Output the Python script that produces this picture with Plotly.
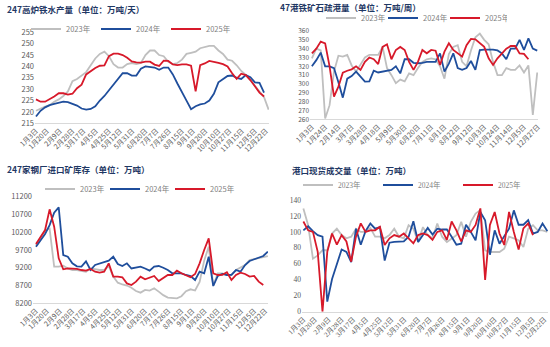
import re
import pandas as pd
import plotly.graph_objects as go

YEARS = ["2023年", "2024年", "2025年"]
COLORS = ["#BFBFBF", "#1F4E9C", "#D7192A"]
TITLE_COLOR = "#1F3864"

# ---------------- Panel 1: 247高炉铁水产量 (万吨/天) ----------------
iron_title = "247高炉铁水产量（单位：万吨/天）"
iron_ticks = ["1月3日", "1月20日", "2月9日", "2月28日", "3月17日", "4月5日", "4月25日",
              "5月12日", "5月31日", "6月20日", "7月7日", "7月26日", "8月15日", "9月1日",
              "9月20日", "10月10日", "10月27日", "11月15日", "12月5日", "12月22日"]
iron_2023 = [220.5, 221.5, 222.3, 223, 224.5, 225.5, 227, 229, 233.5, 234.5, 236, 237.5,
             240.5, 243.5, 245.5, 246.5, 244.5, 241, 239.5, 239.5, 241, 241.5, 241, 241.5,
             245, 247, 247, 245, 244.5, 242, 241, 241.5, 243, 245.5, 246, 246.5, 248, 248.5,
             249, 249, 247, 245.5, 243, 242.5, 240.5, 238, 236.3, 234, 231.5, 229, 226.5, 221]
iron_2024 = [218, 220.5, 222, 223, 223.5, 224, 224.5, 224.3, 223.5, 222.8, 221.5, 221,
             221.3, 222.5, 225, 227, 229.5, 232, 234.5, 237, 237, 236, 236, 239, 240, 239.7,
             239.5, 238.5, 239.5, 239.5, 236.5, 232.5, 229, 225, 221.2, 222.5, 223.3, 223.7,
             225, 228, 233, 234.5, 235.8, 236, 235, 234.5, 236.2, 235.3, 233, 232.8, 228.5]
iron_2025 = [225.5, 224.5, 224.5, 225.5, 226.8, 228.2, 228.2, 227.6, 228, 230.4, 232, 236.5,
             238, 239.3, 240.3, 240.5, 244.5, 245.6, 245.6, 245, 243.8, 242.2, 241.8, 241.7,
             242.1, 242.1, 240.8, 240.2, 242.5, 242.4, 240.9, 240.6, 240.9, 240.9, 240.3, 229,
             240.6, 241.3, 242.4, 242.1, 241.6, 241, 240, 237, 234.5, 236.8, 236.2, 234, 231,
             228.5, 226.8]

# ---------------- Panel 2: 47港铁矿石疏港量 (万吨/周) ----------------
port_title = "47港铁矿石疏港量（单位：万吨/周）"
port_ticks = ["1月3日", "1月24日", "2月14日", "3月7日", "3月28日", "4月18日", "5月9日",
              "5月30日", "6月20日", "7月11日", "8月1日", "8月22日", "9月12日", "10月3日",
              "10月24日", "11月14日", "12月5日", "12月27日"]
port_2023 = [329, 340, 338, 261, 276, 314, 332, 331, 333, 321, 314, 322, 330, 333, 333, 333,
             342, 318, 310, 301, 305, 303, 312, 310, 318, 325, 328, 329, 328, 320, 306, 334,
             342, 344, 325, 320, 338, 353, 357, 350, 345, 325, 310, 310, 318, 316, 316, 321,
             313, 321, 265, 313]
port_2024 = [320, 327, 335.5, 320, 320, 318, 302, 284.5, 306, 309, 314, 308, 302.6, 303, 315,
             313, 314, 315, 316, 320, 312, 328, 328, 324, 323.5, 324, 325, 325, 325, 334.7, 314,
             323, 334.7, 318, 316, 318, 326, 316, 338.5, 339, 339, 339, 338, 334.7, 328, 340,
             340, 350, 338.5, 351.7, 340, 337.7]
port_2025 = [334.7, 340, 348, 346, 320, 285.7, 297, 312.8, 315, 316.6, 320, 316, 325, 330,
             328, 322.6, 342, 345, 328, 338.5, 342, 338.5, 325, 316, 325, 338.5, 334.7, 338.5,
             337.7, 321.5, 336.6, 346, 338.5, 334.7, 331, 344, 351, 350.6, 346, 342, 329,
             321.5, 329, 334.7, 340, 343, 343, 334.7, 334, 328]

# ---------------- Panel 3: 247家钢厂进口矿库存 (万吨) ----------------
stock_title = "247家钢厂进口矿库存（单位：万吨）"
stock_ticks = iron_ticks
stock_2023 = [9830, 10050, 10250, 10300, 9231, 9231, 9260, 9180, 9137, 9137, 9110, 9090,
              9180, 9155, 9137, 9137, 9250, 8950, 8780, 8730, 8700, 8640, 8547, 8500, 8575,
              8556, 8622, 8528, 8430, 8360, 8340, 8340, 8400, 8540, 8594, 8560, 8800, 9400,
              9794, 8700, 9044, 9044, 9000, 8997, 9137, 9200, 9278, 9418, 9440, 9465, 9500,
              9531]
stock_2024 = [9794, 9981, 10150, 10400, 10750, 10900, 9559, 9512, 9325, 9240, 9231, 9380,
              9137, 9280, 9325, 9372, 9400, 9512, 9306, 9250, 9325, 9180, 9200, 9231, 9180,
              9118, 9231, 9250, 9200, 9137, 9044, 9044, 9044, 8997, 8969, 8856, 9090, 9044,
              9512, 8687, 8969, 9025, 8997, 9000, 9137, 9090, 9278, 9391, 9437, 9480, 9531,
              9653]
stock_2025 = [9869, 10075, 10262, 10844, 10356, 9466, 9156, 9184, 9184, 9166, 9137, 9118,
              9166, 9090, 9062, 9090, 9325, 8950, 8950, 8931, 8760, 8715, 8809, 8950, 8875,
              8931, 8969, 8828, 8903, 8997, 8997, 9118, 9044, 8997, 8931, 9025, 9325, 9700,
              10028, 9044, 8997, 9000, 9072, 8856, 8997, 9062, 9025, 8950, 8969, 8809, 8715]

# ---------------- Panel 4: 港口现货成交量 (万吨) ----------------
trade_title = "港口现货成交量（单位：万吨）"
trade_ticks = iron_ticks
trade_2023 = [129.4, 108.4, 66.4, 70.6, 77, 77, 98, 104, 96, 92, 94, 104, 100, 100, 105, 94,
              94, 92, 96, 104, 94, 92, 108.4, 104, 87.4, 106, 96, 92, 110.5, 94, 87.4, 92, 96,
              112.6, 94, 112.6, 123, 127.3, 77, 74.8, 74.8, 74.8, 79, 94, 92, 89.5, 81, 104,
              108.4, 102, 102, 100]
trade_2024 = [102, 107, 101, 96, 94, 12.6, 41, 60, 78, 75, 62, 104, 84, 101, 110.5, 104, 106,
              64, 86.5, 87.4, 88, 88, 94, 113.4, 87.4, 96.6, 105, 96.6, 104, 103, 103, 94, 84,
              85.3, 109, 100, 89.5, 125, 114.7, 71.4, 102, 85.3, 94, 104, 127, 109, 109, 114.7,
              98, 100, 110.5, 101]
trade_2025 = [113, 102, 100, 75, 0, 75, 98, 84, 96, 88, 62.7, 94, 110.7, 100, 102, 102, 106.5,
              83.6, 92, 96, 94, 98, 92, 85.7, 96, 98, 96, 90, 100, 102, 90, 113, 102, 88, 102,
              100, 108.7, 129.5, 39.7, 108.7, 125, 98, 83.6, 125, 100, 78, 104.5, 110.7, 96]

W, H = 550, 347
BASE_YEAR = 2023
SANS = "Noto Sans CJK SC, Liberation Sans, sans-serif"
SERIF = "Liberation Serif, Noto Sans CJK SC, serif"


def label_date(lbl):
    m, d = re.match(r"(\d+)月(\d+)日", lbl).groups()
    return pd.Timestamp(BASE_YEAR, int(m), int(d))


def week_dates(n):
    return pd.date_range(f"{BASE_YEAR}-01-03", periods=n, freq="7D")


def day(doy):
    return pd.Timestamp(BASE_YEAR, 1, 1) + pd.Timedelta(days=doy - 1)


panels = [
    dict(title=iron_title, ticks=iron_ticks, series=[iron_2023, iron_2024, iron_2025],
         xdom=(35, 269), ydom=(32.3, 123.3), yr=(215, 255), dy=5, xr=(1.5, 360.6),
         title_xy=(5, 9), leg_xy=(26, 29), entry=25, yfs=7.5, fam=SANS),
    dict(title=port_title, ticks=port_ticks, series=[port_2023, port_2024, port_2025],
         xdom=(310, 538), ydom=(31, 119.3), yr=(260, 360), dy=10, xr=(0, 361.2),
         title_xy=(278, 7), leg_xy=(321, 18), entry=17, yfs=6.5, fam=SANS),
    dict(title=stock_title, ticks=stock_ticks, series=[stock_2023, stock_2024, stock_2025],
         xdom=(33, 268), ydom=(196.7, 303.3), yr=(8200, 11200), dy=500, xr=(-1.6, 360.3),
         title_xy=(5, 169), leg_xy=(40, 189), entry=20, yfs=7.5, fam=SANS),
    dict(title=trade_title, ticks=trade_ticks, series=[trade_2023, trade_2024, trade_2025],
         xdom=(302, 548), ydom=(200, 311.7), yr=(0, 140), dy=20, xr=(1, 361),
         title_xy=(290, 170), leg_xy=(298, 185), entry=35, yfs=7.5, fam=SERIF),
]

fig = go.Figure()
layout = dict(width=W, height=H, margin=dict(l=0, r=0, t=0, b=0, autoexpand=False),
              paper_bgcolor="white", plot_bgcolor="white", showlegend=True,
              font=dict(family=SANS))
annotations = []

for k, p in enumerate(panels, start=1):
    sfx = "" if k == 1 else str(k)
    leg = "legend" if k == 1 else f"legend{k}"
    for j, vals in enumerate(p["series"]):
        fig.add_trace(go.Scatter(
            x=week_dates(len(vals)), y=vals, mode="lines", name=YEARS[j],
            line=dict(color=COLORS[j], width=1.8),
            xaxis=f"x{sfx}", yaxis=f"y{sfx}", legend=leg, hoverinfo="skip"))
    x0, x1 = p["xdom"]
    y0, y1 = p["ydom"]
    layout[f"xaxis{sfx}"] = dict(
        domain=[x0 / W, x1 / W], anchor=f"y{sfx}", type="date",
        range=[day(p["xr"][0]), day(p["xr"][1])],
        tickvals=[label_date(t) for t in p["ticks"]], ticktext=p["ticks"],
        tickangle=-45, tickfont=dict(size=7, color="#595959", family=p["fam"]),
        showgrid=False, zeroline=False, showline=True, linecolor="#D9D9D9", linewidth=1,
        ticks="", automargin=False)
    layout[f"yaxis{sfx}"] = dict(
        domain=[1 - y1 / H, 1 - y0 / H], anchor=f"x{sfx}",
        range=list(p["yr"]), dtick=p["dy"], tick0=p["yr"][0], tickformat="d",
        tickfont=dict(size=p["yfs"], color="#595959", family=p["fam"]),
        showgrid=False, zeroline=False, showline=False, ticks="", automargin=False)
    lx, ly = p["leg_xy"]
    layout[leg] = dict(orientation="h", x=lx / W, y=1 - ly / H, xanchor="left",
                       yanchor="middle", bgcolor="rgba(0,0,0,0)",
                       font=dict(size=7.5, color="#7F7F7F", family=p["fam"]),
                       entrywidth=p["entry"], entrywidthmode="pixels",
                       itemwidth=30, tracegroupgap=0)
    tx, ty = p["title_xy"]
    annotations.append(dict(text=f"<b>{p['title']}</b>", x=tx / W, y=1 - ty / H,
                            xref="paper", yref="paper", xanchor="left", yanchor="middle",
                            showarrow=False,
                            font=dict(size=8.5, color=TITLE_COLOR, family=SANS)))

layout["annotations"] = annotations
fig.update_layout(**layout)
fig.write_html("out.html")
